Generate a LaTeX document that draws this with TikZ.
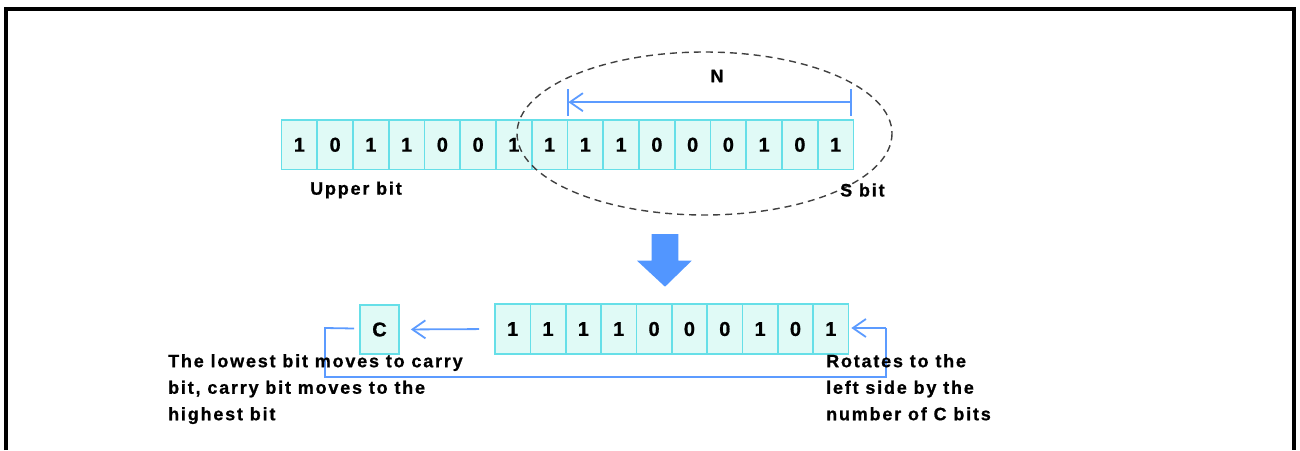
\documentclass[tikz,border=0pt]{standalone}
\usepackage{fontspec}
\setmainfont{Liberation Sans}
\newfontfamily\lbl{Liberation Sans}[LetterSpace=10, BoldFeatures={FakeBold=0.8}]
\newfontfamily\dig{Liberation Sans}[BoldFeatures={FakeBold=0.8}]
\usetikzlibrary{arrows.meta,calc}
\definecolor{cellfill}{HTML}{E0FAF6}
\definecolor{celldraw}{HTML}{66DFE8}
\definecolor{flowblue}{HTML}{5C9BFF}
\definecolor{bigarrow}{HTML}{5296FF}
\definecolor{ellgray}{HTML}{404040}
\tikzset{
  cell/.style={draw=celldraw, fill=cellfill, line width=1.7pt, inner sep=0pt,
    minimum width=35.75pt, minimum height=49.5pt,
    font=\fontsize{20}{22}\dig\bfseries},
  ccell/.style={cell, minimum width=39pt},
  flow/.style={draw=flowblue, line width=1.8pt},
  barb/.style={-{Straight Barb[length=13pt,width=18pt,line width=1.8pt]}},
  lab/.style={inner sep=0pt, font=\fontsize{18}{26.5}\lbl\bfseries, align=left},
}
\begin{document}
\begin{tikzpicture}[x=1pt,y=-1pt]
\useasboundingbox (0,0) rectangle (1300,450);
% frame
\draw[line width=4pt] (6,450) -- (6,9) -- (1294,9) -- (1294,450);
% top row
\foreach \d [count=\i] in {1,0,1,1,0,0,1,1,1,1,0,0,0,1,0,1}
  \node[cell] (t\i) at ({281.5+35.75*(\i-0.5)},144.75) {\d};
% dashed ellipse
\draw[ellgray, dashed, dash pattern=on 7pt off 5pt, line width=1.4pt] (704.5,133.5) ellipse [x radius=187.5, y radius=81.5];
% N arrow
\coordinate (nL) at ($(t8.north east)+(0,-17)$);
\coordinate (nR) at ($(t16.north east)+(-3,-17)$);
\draw[flow] ($(t8.north east)+(0,-30)$) -- ($(t8.north east)+(0,-3)$);
\draw[flow] ($(t16.north east)+(-3,-30)$) -- ($(t16.north east)+(-3,-3)$);
\draw[flow, barb] (nR) -- (nL);
\node[lab] (N) at (717,76) {N};
\node[lab, anchor=west] (upper) at (310,190) {Upper bit};
\node[lab, anchor=west] (sbit) at (840,190) {S bit};
% big down arrow
\fill[bigarrow] (651.7,234) -- (678.3,234) -- (678.3,260.7) -- (691.7,260.7) -- (665,286.7) -- (637,260.7) -- (651.7,260.7) -- cycle;
% bottom row
\foreach \d [count=\i] in {1,1,1,1,0,0,0,1,0,1}
  \node[cell, minimum width=35.35pt] (b\i) at ({495+35.35*(\i-0.5)},329) {\d};
\node[ccell] (c) at (379.5,329.5) {C};
% arrow to carry
\draw[flow, barb, shorten <=15pt, shorten >=11pt] (b1.west) -- (c.east);
% return loop
\coordinate (r1) at (886,328);
\coordinate (r2) at (886,377);
\coordinate (r3) at (325,377);
\coordinate (r4) at (325,328);
\draw[flow] ($(c.west)+(-5,-1)$) -- (r4) -- (r3) -- (r2) -- (r1);
\draw[flow, barb] (r1) -- ($(b10.east)+(2,-1)$);
% texts
\node[lab, anchor=north west] (lt) at (168,354) {The lowest bit moves to carry\\bit, carry bit moves to the\\highest bit};
\node[lab, anchor=north west] (rt) at (826,354) {Rotates to the\\left side by the\\number of C bits};
\end{tikzpicture}
\end{document}
